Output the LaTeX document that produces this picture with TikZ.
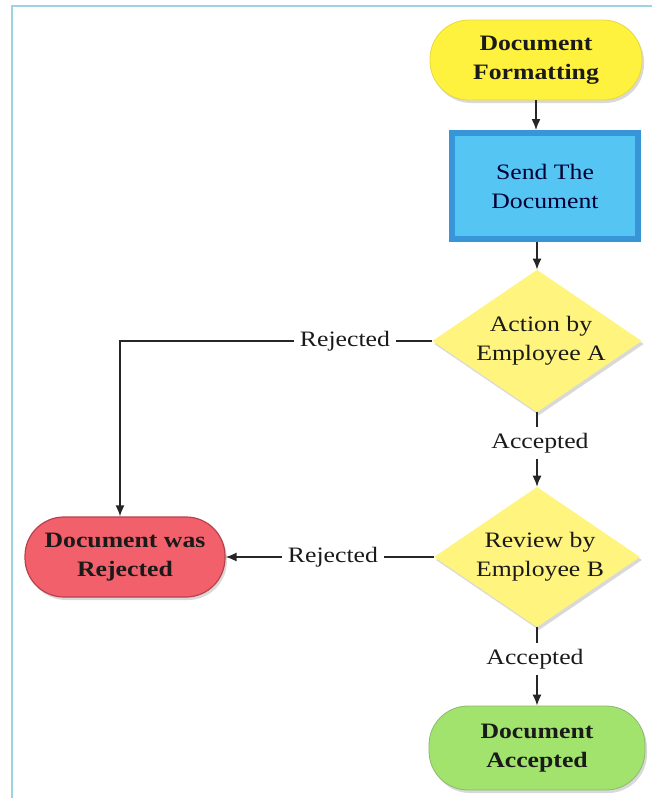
\documentclass[tikz,border=0pt]{standalone}
\usepackage{fontspec}
\setmainfont{Liberation Serif}[FakeStretch=1.17]
\usetikzlibrary{shapes.geometric,shadows,arrows.meta}
\definecolor{fmtY}{HTML}{FFF23F}
\definecolor{fmtYe}{HTML}{E8D840}
\definecolor{diaY}{HTML}{FFF47E}
\definecolor{blueIn}{HTML}{55C5F4}
\definecolor{blueOut}{HTML}{3896D8}
\definecolor{redF}{HTML}{F2616B}
\definecolor{redE}{HTML}{B8404C}
\definecolor{greenF}{HTML}{A2E36E}
\definecolor{greenE}{HTML}{8CB870}
\definecolor{frameC}{HTML}{9CD3E0}
\definecolor{txtD}{HTML}{1A1A1A}
\begin{document}
\begin{tikzpicture}[x=1pt,y=-1pt,
  every node/.style={font=\fontsize{22}{29}\selectfont, align=center, text=txtD},
  shadowed/.style={drop shadow={opacity=0.3,shadow xshift=2pt,shadow yshift=-3pt}},
  stadium/.style={rectangle, rounded corners=39pt, minimum width=212pt, minimum height=80pt,
    font=\bfseries\fontsize{22}{29}\selectfont, shadowed},
  procbox/.style={rectangle, minimum width=186pt, minimum height=106pt, fill=blueIn,
    draw=blueOut, line width=6pt, shadowed, text=black!80!blue},
  decision/.style={diamond, aspect=1.47, minimum width=202pt, minimum height=138pt,
    inner sep=0pt, fill=diaY, shadowed},
  lbl/.style={inner sep=6pt},
  conn/.style={line width=1.4pt, draw=black!85},
  arr/.style={conn, -{Latex[length=11pt,width=9pt]}}
]
\useasboundingbox (0,0) rectangle (652,798);
\draw[frameC, line width=2pt] (12,798) -- (12,6) -- (652,6);

\node[stadium, fill=fmtY, draw=fmtYe, line width=0.8pt] (fmt) at (536,60) {Document\\Formatting};
\node[procbox] (send) at (545,186) {Send The\\Document};
\node[decision] (dA) at (537,341) {\hspace*{8pt}Action by\\\hspace*{8pt}Employee A};
\node[lbl] (acc1) at (540,443) {Accepted};
\node[decision] (dB) at (537,557) {\hspace*{6pt}Review by\\\hspace*{6pt}Employee B};
\node[lbl] (acc2) at (535,659) {Accepted};
\node[stadium, fill=greenF, draw=greenE, line width=0.8pt, minimum width=216pt, minimum height=84pt] (ok) at (537,748) {Document\\Accepted};
\node[stadium, fill=redF, draw=redE, line width=1.2pt, minimum width=200pt, minimum height=80pt] (rej) at (125,557) {Document was\\Rejected};
\node[lbl] (rj1) at (345,341) {Rejected};
\node[lbl] (rj2) at (333,557) {Rejected};

\draw[arr] (fmt.south) -- (fmt.south |- send.north);
\draw[arr] (dA.north |- send.south) -- (dA.north);
\draw[conn] (dA.south) -- (dA.south |- acc1.north);
\draw[arr] (dB.north |- acc1.south) -- (dB.north);
\draw[conn] (dB.south) -- (dB.south |- acc2.north);
\draw[arr] (ok.north |- acc2.south) -- (ok.north);
\draw[conn] (dA.west) -- (rj1.east |- dA.west);
\coordinate (c1) at (120,341);
\draw[arr] (rj1.west |- dA.west) -- (c1) -- (c1 |- rej.north);
\draw[conn] (dB.west) -- (rj2.east |- dB.west);
\draw[arr] (rj2.west |- dB.west) -- (rej.east |- dB.west);
\end{tikzpicture}
\end{document}
